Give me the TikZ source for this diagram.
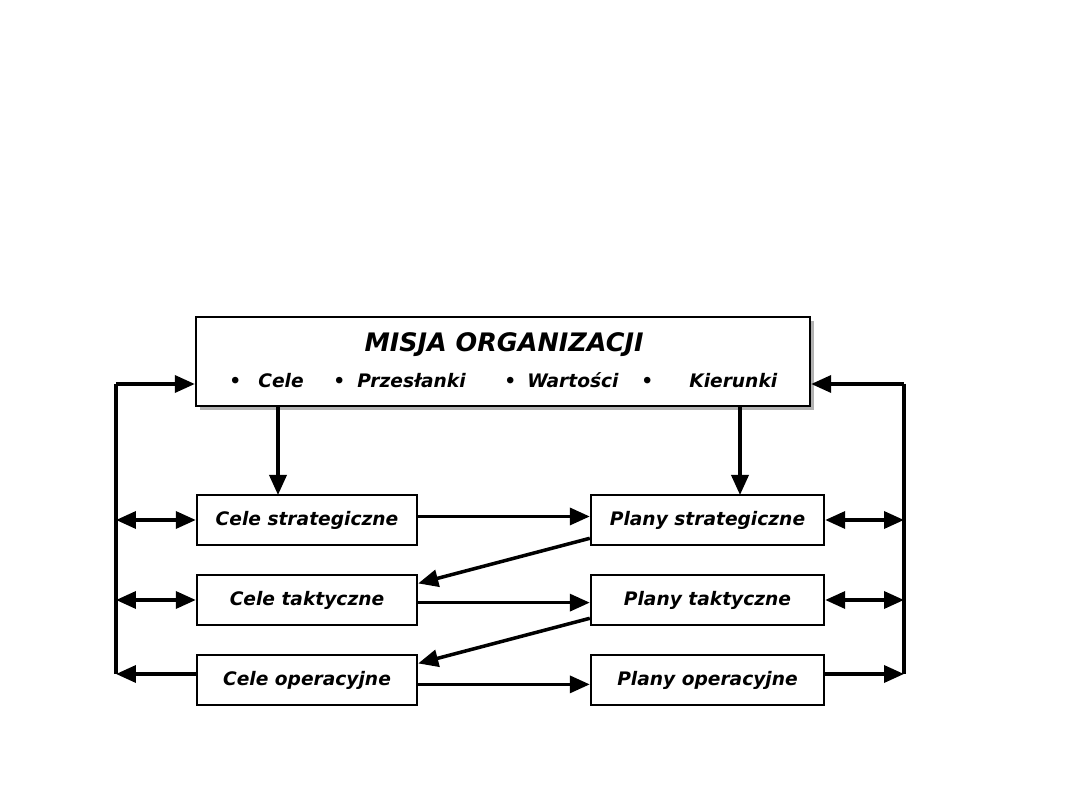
\documentclass[tikz,border=0pt]{standalone}
\usepackage{fontspec}
\setmainfont{DejaVu Sans}
\usepackage{tikz}
\usetikzlibrary{positioning,arrows.meta,calc,shadows}

\begin{document}
\begin{tikzpicture}[x=0.02cm,y=-0.02cm,>={Triangle[length=4mm,width=3.4mm]},
  every node/.style={font=\bfseries\itshape\fontsize{10.6}{12}\selectfont},
  box/.style={draw,line width=1.4pt,minimum width=4.4cm,minimum height=1cm,inner sep=0pt},
  pbox/.style={box,minimum width=4.66cm},
  link/.style={line width=2pt}]
\useasboundingbox (0,0) rectangle (1080,810);
% misja
\node[draw,line width=1.4pt,minimum width=12.28cm,minimum height=1.78cm,fill=white,
  drop shadow={shadow xshift=2.5pt,shadow yshift=-2.5pt,fill=gray!60,opacity=1}] (mis) at (503,361.5) {};
\node[font=\bfseries\itshape\fontsize{14.5}{16}\selectfont] (tit) at (504,345) {MISJA ORGANIZACJI};
\foreach \x/\t/\n in {229/\textbullet/b1,258/Cele/w1,333/\textbullet/b2,357/Przesłanki/w2,
  504/\textbullet/b3,527/Wartości/w3,641/\textbullet/b4,689/Kierunki/w4}
  \node[anchor=base west,inner sep=0pt] (\n) at (\x,388) {\t};
% cele
\node[box] (cs) at (307,520) {Cele strategiczne};
\node[box] (ct) at (307,600) {Cele taktyczne};
\node[box] (co) at (307,680) {Cele operacyjne};
% plany
\node[pbox] (ps) at (707.5,520) {Plany strategiczne};
\node[pbox] (pt) at (707.5,600) {Plany taktyczne};
\node[pbox] (po) at (707.5,680) {Plany operacyjne};
% boczne linie
\coordinate (lt) at (116,384);
\coordinate (lb) at (116,674);
\coordinate (rt) at (904,384);
\coordinate (rb) at (904,674);
\coordinate (d1) at (278,495);
\coordinate (d2) at (740,495);
\draw[link] (lt) -- (lb);
\draw[link] (rt) -- (rb);
\draw[link,->] (lt) -- (lt -| mis.west);
\draw[link,->] (rt) -- (rt -| mis.east);
\draw[link,->] (mis.south -| d1) -- (d1);
\draw[link,->] (mis.south -| d2) -- (d2);
\draw[link,<->] (lt |- cs.west) -- (cs.west);
\draw[link,<->] (lt |- ct.west) -- (ct.west);
\draw[link,->] (co.west |- lb) -- (lb);
\draw[link,<->] (ps.east) -- (rt |- ps.east);
\draw[link,<->] (pt.east) -- (rt |- pt.east);
\draw[link,->] (po.east |- rb) -- (rb);
% poziome
\draw[link,->] ([yshift=2pt]cs.east) -- ([yshift=2pt]ps.west);
\draw[link,->] ([yshift=-1.5pt]ct.east) -- ([yshift=-1.5pt]pt.west);
\draw[link,->] ([yshift=-2.5pt]co.east) -- ([yshift=-2.5pt]po.west);
\draw[link,->] ([yshift=4.5pt]ps.south west) -- ([yshift=-5.5pt]ct.north east);
\draw[link,->] ([yshift=4.5pt]pt.south west) -- ([yshift=-5.5pt]co.north east);
\end{tikzpicture}
\end{document}
